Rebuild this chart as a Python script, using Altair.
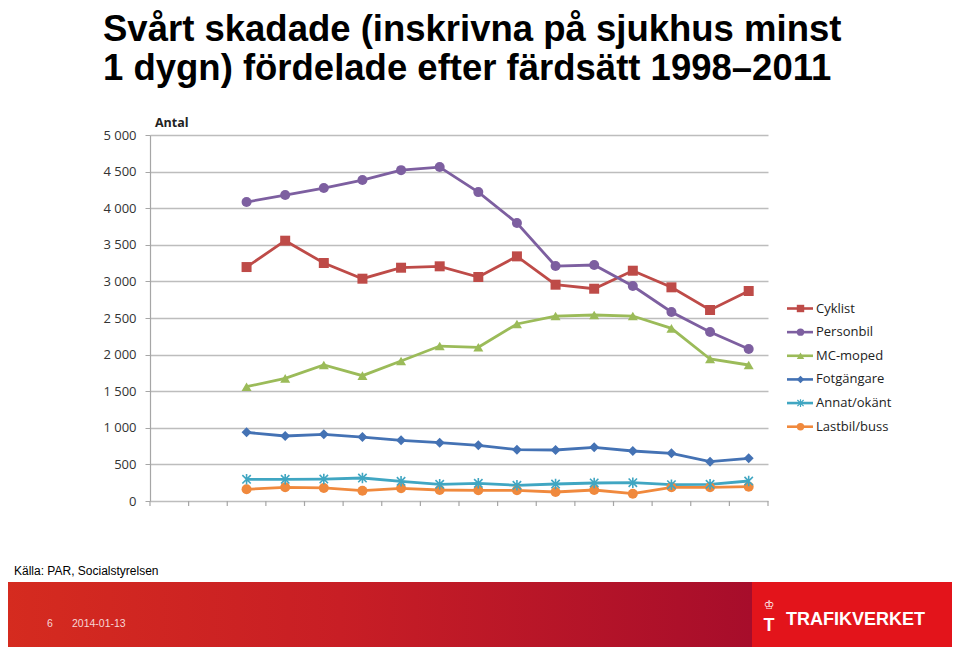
import altair as alt
import pandas as pd

# ---------------- data ----------------
years = list(range(1998, 2012))
axis_years = list(range(1996, 2012))
series_names = ["Cyklist", "Personbil", "MC-moped", "Fotgängare", "Annat/okänt", "Lastbil/buss"]
series_colors = ["#BE4B48", "#7D5FA0", "#9BBB59", "#4472B4", "#40A6C2", "#F0893D"]

cyklist = [3196, 3556, 3251, 3037, 3187, 3206, 3060, 3342, 2955, 2900, 3146, 2919, 2609, 2869]
personbil = [4084, 4180, 4275, 4385, 4520, 4562, 4220, 3797, 3210, 3224, 2937, 2582, 2308, 2076]
mc_moped = [1561, 1676, 1858, 1712, 1912, 2117, 2100, 2418, 2527, 2541, 2527, 2359, 1940, 1858]
fotgangare = [938, 888, 911, 874, 829, 797, 761, 701, 697, 733, 683, 651, 537, 583]
annat = [296, 296, 300, 314, 269, 228, 242, 214, 232, 246, 250, 223, 228, 273]
lastbil = [160, 187, 178, 141, 173, 150, 146, 146, 123, 150, 100, 187, 187, 196]

y_ticks = [0, 500, 1000, 1500, 2000, 2500, 3000, 3500, 4000, 4500, 5000]

title_lines = ["Svårt skadade (inskrivna på sjukhus minst", "1 dygn) fördelade efter färdsätt 1998–2011"]
y_title = "Antal"
source_text = "Källa:  PAR, Socialstyrelsen"
page_no = "6"
date_text = "2014-01-13"
brand = "TRAFIKVERKET"

ASTERISK = "M0,-1L0,1M-0.8,-0.8L0.8,0.8M-0.8,0.8L0.8,-0.8"
series_shapes = ["square", "circle", "triangle-up", "diamond", ASTERISK, "circle"]

# ---------------- tables ----------------
all_values = [cyklist, personbil, mc_moped, fotgangare, annat, lastbil]
rows = []
for name, vals in zip(series_names, all_values):
    for yr, v in zip(years, vals):
        rows.append({"series": name, "year": yr, "value": v})
df = pd.DataFrame(rows)

ranks = list(range(len(series_names)))
legend_df = pd.DataFrame({"series": series_names, "rank": ranks})
bounds_df = pd.DataFrame({"b": [y - 0.5 for y in axis_years] + [axis_years[-1] + 0.5]})

FONT = "Open Sans"
GRID = "#BDBDBD"
AXC = "#A6A6A6"

color_scale = alt.Scale(domain=series_names, range=series_colors)
shape_scale = alt.Scale(domain=series_names, range=series_shapes)
x_scale = alt.Scale(domain=[axis_years[0] - 0.5, axis_years[-1] + 0.5], nice=False, zero=False)
y_scale = alt.Scale(domain=[0, 5000], nice=False)

x_enc = alt.X("year:Q", scale=x_scale,
              axis=alt.Axis(values=axis_years, format="d", ticks=False, grid=False,
                            domainColor=AXC, domainWidth=1.2, labelFont=FONT, labelFontSize=12.5,
                            labelColor="#333333", labelPadding=9, labelFlush=False,
                            labelOverlap=False, title=None))

lines = alt.Chart(df).mark_line(strokeWidth=2.8).encode(
    x=x_enc,
    y=alt.Y("value:Q", scale=y_scale,
            axis=alt.Axis(values=y_ticks, labelExpr="replace(format(datum.value, ','), ',', ' ')",
                          tickSize=5, tickColor=AXC, domainColor=AXC, domainWidth=1.2,
                          gridColor=GRID, gridWidth=1.3, labelFont=FONT, labelFontSize=13,
                          labelColor="#333333", labelPadding=9, title=None)),
    color=alt.Color("series:N", scale=color_scale, legend=None),
    detail="series:N",
)

points = alt.Chart(df).transform_filter(
    alt.datum.series != "Annat/okänt"
).mark_point(filled=True, size=100, opacity=1).encode(
    x=alt.X("year:Q", scale=x_scale, axis=None),
    y=alt.Y("value:Q", scale=y_scale, axis=None),
    color=alt.Color("series:N", scale=color_scale, legend=None),
    shape=alt.Shape("series:N", scale=shape_scale, legend=None),
)

stars = alt.Chart(df).transform_filter(
    alt.datum.series == "Annat/okänt"
).mark_point(filled=False, size=110, strokeWidth=1.6, opacity=1, shape=ASTERISK).encode(
    x=alt.X("year:Q", scale=x_scale, axis=None),
    y=alt.Y("value:Q", scale=y_scale, axis=None),
    color=alt.Color("series:N", scale=color_scale, legend=None),
)

xticks = alt.Chart(bounds_df).mark_rule(color=AXC, strokeWidth=1.2).encode(
    x=alt.X("b:Q", scale=x_scale, axis=None),
    y=alt.value(366), y2=alt.value(371),
)

# ---------------- legend ----------------
leg_y = alt.Y("rank:O", scale=alt.Scale(type="point", domain=ranks, range=[173.5, 291.7], padding=0),
              axis=None)
leg_line = alt.Chart(legend_df).mark_rule(strokeWidth=2.6).encode(
    x=alt.value(637), x2=alt.value(663), y=leg_y,
    color=alt.Color("series:N", scale=color_scale, legend=None),
)
leg_pts = alt.Chart(legend_df).transform_filter(
    alt.datum.series != "Annat/okänt"
).mark_point(filled=True, size=55, opacity=1).encode(
    x=alt.value(650.5), y=leg_y,
    color=alt.Color("series:N", scale=color_scale, legend=None),
    shape=alt.Shape("series:N", scale=shape_scale, legend=None),
)
leg_star = alt.Chart(legend_df).transform_filter(
    alt.datum.series == "Annat/okänt"
).mark_point(filled=False, size=60, strokeWidth=1.2, opacity=1, shape=ASTERISK).encode(
    x=alt.value(650.5), y=leg_y,
    color=alt.Color("series:N", scale=color_scale, legend=None),
)
leg_text = alt.Chart(legend_df).mark_text(align="left", baseline="middle", font=FONT,
                                          fontSize=13, color="#222222").encode(
    x=alt.value(666), y=leg_y, text="series:N",
)

# ---------------- texts ----------------
def text_layer(txt, x, y, **kw):
    return alt.Chart(pd.DataFrame({"t": [txt]})).mark_text(**kw).encode(
        x=alt.value(x), y=alt.value(y), text="t:N")

title1 = text_layer(title_lines[0], -47, -94, align="left", baseline="alphabetic",
                    font="Liberation Sans", fontWeight="bold", fontSize=36.5, color="#000000")
title2 = text_layer(title_lines[1], -47, -55, align="left", baseline="alphabetic",
                    font="Liberation Sans", fontWeight="bold", fontSize=36.5, color="#000000")
antal = text_layer(y_title, 5, -8.5, align="left", baseline="alphabetic",
                   font=FONT, fontWeight="bold", fontSize=12.5, color="#222222")
source = text_layer(source_text, -136, 440, align="left", baseline="alphabetic",
                    font="Liberation Sans", fontSize=12, color="#000000")

# ---------------- footer ----------------
one = pd.DataFrame({"k": [0]})
band = alt.Chart(one).mark_rect(
    color=alt.LinearGradient(
        gradient="linear", x1=0, x2=1, y1=0, y2=0,
        stops=[alt.GradientStop(color="#D52B1F", offset=0),
               alt.GradientStop(color="#C81E25", offset=0.45),
               alt.GradientStop(color="#A70D2B", offset=1)])
).encode(x=alt.value(-145), x2=alt.value(602), y=alt.value(447), y2=alt.value(520))
panel = alt.Chart(one).mark_rect(color="#E3141B").encode(
    x=alt.value(602), x2=alt.value(805), y=alt.value(447), y2=alt.value(520))
page_t = text_layer(page_no, -103, 492, align="left", baseline="alphabetic",
                    font="Liberation Sans", fontSize=10.5, color="#F6D6D6")
date_t = text_layer(date_text, -78, 492, align="left", baseline="alphabetic",
                    font="Liberation Sans", fontSize=10.5, color="#F6D6D6")
brand_t = text_layer(brand, 636, 490, align="left", baseline="alphabetic",
                     font="Liberation Sans", fontWeight="bold", fontSize=18, color="#FFFFFF")
logo_T = text_layer("T", 619, 496, align="center", baseline="alphabetic",
                    font="Liberation Sans", fontWeight="bold", fontSize=18, color="#FFFFFF")
logo_crown = text_layer("♔", 619, 474, align="center", baseline="alphabetic",
                        font="DejaVu Sans", fontSize=12, color="#FFFFFF")

chart = alt.layer(
    lines, points, stars, xticks,
    leg_line, leg_pts, leg_star, leg_text,
    title1, title2, antal, source,
    band, panel, page_t, date_t, brand_t, logo_T, logo_crown,
).resolve_scale(y="independent").properties(
    width=618, height=366,
    padding={"left": 142, "top": 127, "right": 184, "bottom": 146},
    autosize=alt.AutoSizeParams(type="none"),
    background="#FFFFFF",
).configure_view(stroke=None)

chart.save("out.html", embed_options={"renderer": "svg", "actions": False})
